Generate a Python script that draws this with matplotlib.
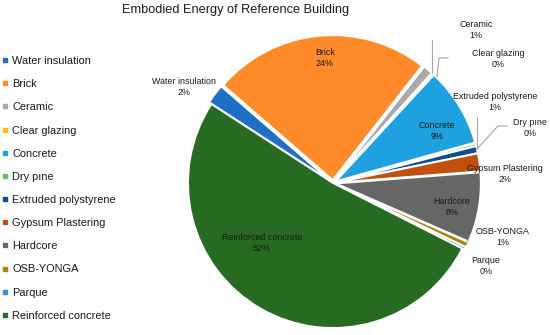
import matplotlib
matplotlib.use("Agg")
import matplotlib.pyplot as plt
from matplotlib.lines import Line2D

plt.rcParams['font.family'] = ['Liberation Sans', 'DejaVu Sans']

categories = ["Water insulation", "Brick", "Ceramic", "Clear glazing", "Concrete",
              "Dry pıne", "Extruded polystyrene", "Gypsum Plastering", "Hardcore",
              "OSB-YONGA", "Parque", "Reinforced concrete"]
values = [2.2, 24.2, 1.1, 0.2, 8.8, 0.3, 0.8, 2.0, 7.8, 0.6, 0.3, 51.7]
colors = ["#1F6FC5", "#FF8A2A", "#A9A9A9", "#FFC000", "#1FA1DF", "#66C25A",
          "#0F4D92", "#C0500C", "#666666", "#B07F10", "#3A8FD0", "#276A22"]
title = "Embodied Energy of Reference Building"

W, H = 550, 335
fig = plt.figure(figsize=(W / 100, H / 100), dpi=100)
ax = fig.add_axes([0, 0, 1, 1])
S = 145.0            # pixels per data unit
CX, CY = 333.0, 183.0  # pie centre in pixels (from top-left)


def P(px, py):
    return ((px - CX) / S, (CY - py) / S)


explode = [0.02] * (len(values) - 1) + [0.0]
wedges, _ = ax.pie(values, colors=colors, startangle=147, counterclock=False,
                   explode=explode, radius=1.0, center=(0, 0), frame=True,
                   wedgeprops=dict(edgecolor='white', linewidth=1.4))
ax.set_xlim((0 - CX) / S, (W - CX) / S)
ax.set_ylim((CY - H) / S, CY / S)
ax.set_aspect('auto')
ax.axis('off')

total = sum(values)
label_pos = {
    "Water insulation": (184, 87),
    "Brick": (325, 58),
    "Ceramic": (476, 30),
    "Clear glazing": (498, 59),
    "Concrete": (437, 131),
    "Dry pıne": (530, 128),
    "Extruded polystyrene": (495, 102),
    "Gypsum Plastering": (505, 174),
    "Hardcore": (452, 207),
    "OSB-YONGA": (503, 237),
    "Parque": (486, 266),
    "Reinforced concrete": (262, 243),
}
for name, v in zip(categories, values):
    x, y = P(*label_pos[name])
    ax.text(x, y, f"{name}\n{v / total * 100:.0f}%", ha='center', va='center',
            fontsize=6.4, color='#1A1A1A', linespacing=1.25)

leaders = [
    [(432, 73), (432, 40)],
    [(437, 77), (439, 58), (448, 58)],
    [(477, 149), (477, 117)],
    [(477, 149), (498, 126), (507, 126)],
    [(467, 243), (470, 235)],
]
for pts in leaders:
    xs, ys = zip(*[P(*p) for p in pts])
    ax.plot(xs, ys, color='#A6A6A6', lw=0.8)

fig.text(236 / W, 1 - 10 / H, title, ha='center', va='center', fontsize=9.2,
         color='#1A1A1A')

handles = [Line2D([], [], marker='s', linestyle='none', markersize=2.2,
                  markerfacecolor=c, markeredgecolor=c) for c in colors]
fig.legend(handles, categories, loc='upper left',
           bbox_to_anchor=(3 / W, 1 - 56 / H),
           frameon=False, fontsize=7.9, handlelength=0.45, handletextpad=0.4,
           labelspacing=1.2, borderpad=0, borderaxespad=0, labelcolor='#1A1A1A')

fig.savefig("out.png", dpi=100)
